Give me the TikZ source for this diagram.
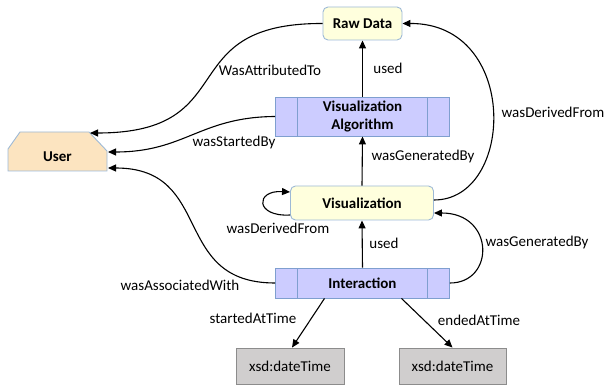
\documentclass[tikz,border=0pt]{standalone}
\usepackage{fontspec}
\setmainfont{Carlito}
\usetikzlibrary{arrows.meta}

\definecolor{entfill}{HTML}{FFFFDD}
\definecolor{entline}{HTML}{9DB9D6}
\definecolor{procfill}{HTML}{CCCCFF}
\definecolor{procline}{HTML}{7F9FCF}
\definecolor{agentfill}{HTML}{FCE4C0}
\definecolor{litfill}{HTML}{D0CECE}
\definecolor{litline}{HTML}{8C8C8C}

\tikzset{
  entity/.style={draw=entline, fill=entfill, rounded corners=5pt, line width=0.9pt,
    font=\bfseries, inner sep=0pt},
  process/.style={draw=procline, fill=procfill, line width=0.9pt, font=\bfseries,
    align=center, inner sep=0pt,
    path picture={\draw[procline, line width=0.9pt]
      ([xshift=22pt]path picture bounding box.north west) -- ([xshift=22pt]path picture bounding box.south west)
      ([xshift=-22pt]path picture bounding box.north east) -- ([xshift=-22pt]path picture bounding box.south east);}},
  literal/.style={draw=litline, fill=litfill, line width=0.9pt, inner sep=0pt},
  rel/.style={line width=1.1pt, -{Triangle[length=8pt,width=7pt]}},
  lbl/.style={inner sep=0pt}
}

\begin{document}
\begin{tikzpicture}[x=1pt, y=-1pt, node font=\fontsize{15}{18}\selectfont]
\useasboundingbox (0,0) rectangle (607,387);

% activities, entities and literals
\node[entity, minimum width=79pt, minimum height=33pt] (raw) at (362.5,23.5) {Raw Data};
\node[process, minimum width=174pt, minimum height=39pt] (va) at (362.5,116.5) {Visualization\\Algorithm};
\node[entity, minimum width=143pt, minimum height=34pt] (vis) at (362,203) {Visualization};
\node[process, minimum width=174pt, minimum height=30pt] (inter) at (362.5,283) {Interaction};
\node[literal, minimum width=108pt, minimum height=36pt] (dt1) at (290,366) {xsd:dateTime};
\node[literal, minimum width=107pt, minimum height=36pt] (dt2) at (452.5,366) {xsd:dateTime};

% the agent
\draw[draw=entline, fill=agentfill, line width=0.9pt]
  (20,132) -- (89,132) -- (107,151) -- (107,171) -- (8,171) -- (8,149) -- cycle;
\node[font=\bfseries, inner sep=0pt] (user) at (57.5,157) {User};
\coordinate (userTR) at (90,133);
\coordinate (userR) at (108,152);
\coordinate (userRB) at (108,168);

% relations
\draw[rel] (raw.west) .. controls (170,23) and (245,133) .. (userTR);
\draw[rel] (va.west) .. controls (200,117) and (185,152) .. (userR);
\draw[rel] (inter.west) .. controls (170,283) and (215,168) .. (userRB);
\draw[rel] (va.north) -- (raw.south);
\draw[rel] (vis.north) -- (va.south);
\draw[rel] (inter.north) -- (vis.south);
\draw[rel] ([yshift=3pt]vis.east) .. controls (515,200) and (520,23) .. (raw.east);
\draw[rel] (inter.east) .. controls (495,283) and (495,213) .. ([yshift=-10pt]vis.east);
\draw[rel] ([yshift=-12pt]vis.west) .. controls (255,217) and (255,190) .. ([yshift=11pt]vis.west);
\draw[rel] ([xshift=-38pt]inter.south) -- ([xshift=2pt]dt1.north);
\draw[rel] ([xshift=39pt]inter.south) -- (dt2.north);

% relation labels
\node[lbl] (l1) at (270,70) {WasAttributedTo};
\node[lbl] (l2) at (388,68) {used};
\node[lbl] (l3) at (234,143) {wasStartedBy};
\node[lbl] (l4) at (423,157) {wasGeneratedBy};
\node[lbl] (l5) at (553,112) {wasDerivedFrom};
\node[lbl] (l6) at (278,228) {wasDerivedFrom};
\node[lbl] (l7) at (384,243) {used};
\node[lbl] (l8) at (537,243) {wasGeneratedBy};
\node[lbl] (l9) at (180,285) {wasAssociatedWith};
\node[lbl] (l10) at (253,318) {startedAtTime};
\node[lbl] (l11) at (479,320) {endedAtTime};
\end{tikzpicture}
\end{document}
